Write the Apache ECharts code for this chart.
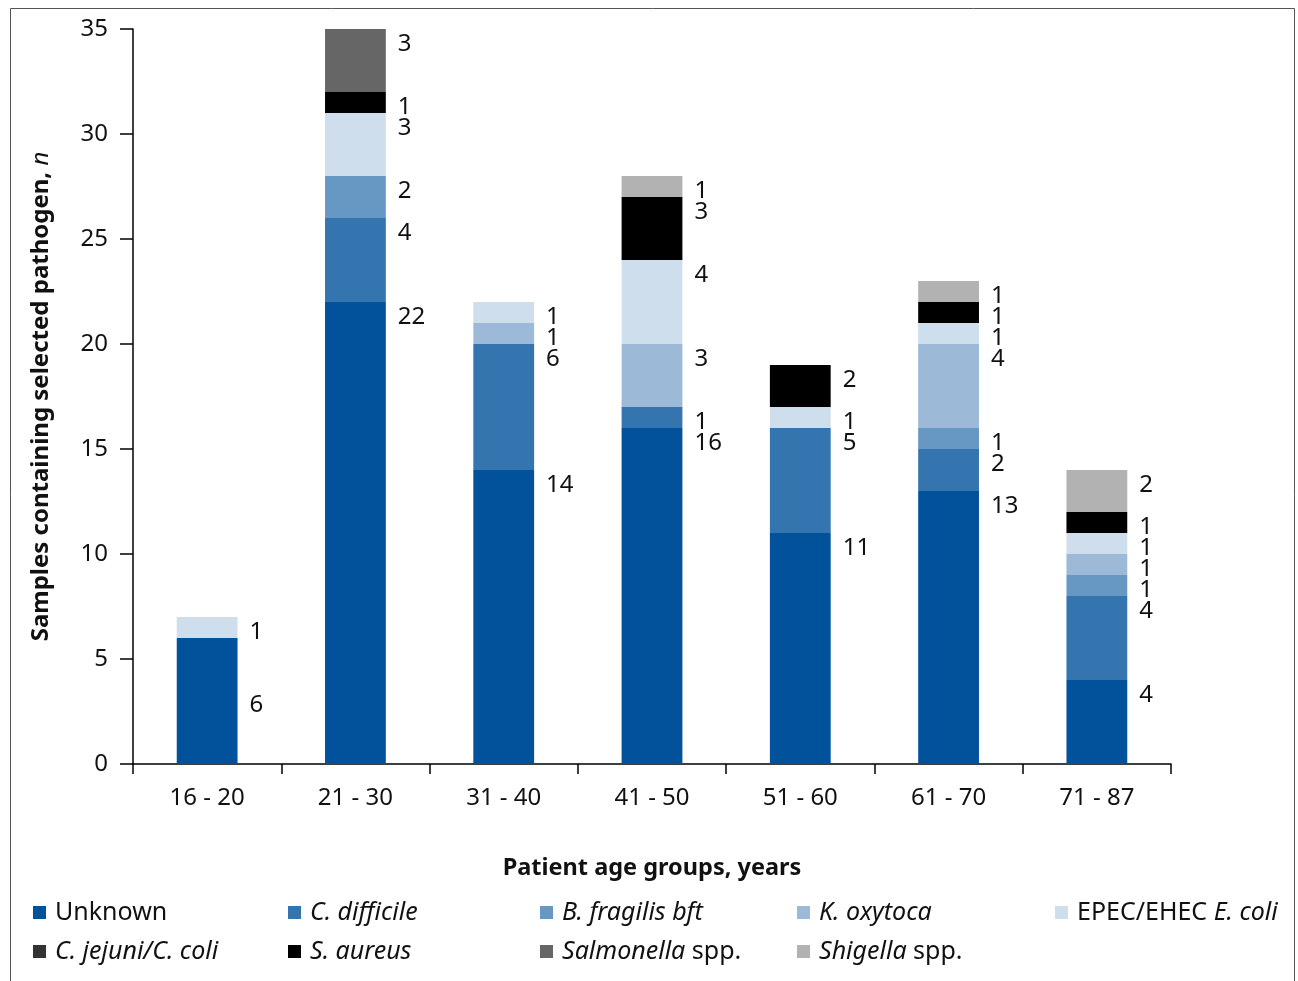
<!DOCTYPE html>
<html>
<head>
<meta charset="utf-8">
<script src="https://cdn.jsdelivr.net/npm/echarts@6/dist/echarts.min.js"></script>
<style>
html,body{margin:0;padding:0;background:#fff;}
#chart{width:1298px;height:981px;}
</style>
</head>
<body>
<div id="chart"></div>
<script>
const categories = ['16 - 20','21 - 30','31 - 40','41 - 50','51 - 60','61 - 70','71 - 87'];
const seriesNames = ['Unknown','C. difficile','B. fragilis bft','K. oxytoca','EPEC/EHEC E. coli','C. jejuni/C. coli','S. aureus','Salmonella spp.','Shigella spp.'];
const unknown     = [6, 22, 14, 16, 11, 13, 4];
const cDifficile  = [null, 4, 6, 1, 5, 2, 4];
const bFragilis   = [null, 2, null, null, null, 1, 1];
const kOxytoca    = [null, null, 1, 3, null, 4, 1];
const epecEhec    = [1, 3, 1, 4, 1, 1, 1];
const cJejuni     = [null, null, null, null, null, null, null];
const sAureus     = [null, 1, null, 3, 2, 1, 1];
const salmonella  = [null, 3, null, null, null, null, null];
const shigella    = [null, null, null, 1, null, 1, 2];
const yTicks = [0, 5, 10, 15, 20, 25, 30, 35];

const values = [unknown, cDifficile, bFragilis, kOxytoca, epecEhec, cJejuni, sAureus, salmonella, shigella];
const colors = ['#01529b','#3474af','#6798c4','#9cbad8','#cfdeec','#333333','#000000','#666666','#b2b2b2'];
const FONT = '"Noto Sans", sans-serif';

const legendFmt = {
  'Unknown': 'Unknown',
  'C. difficile': '{i|C. difficile}',
  'B. fragilis bft': '{i|B. fragilis bft}',
  'K. oxytoca': '{i|K. oxytoca}',
  'EPEC/EHEC E. coli': 'EPEC/EHEC {i|E. coli}',
  'C. jejuni/C. coli': '{i|C. jejuni/C. coli}',
  'S. aureus': '{i|S. aureus}',
  'Salmonella spp.': '{i|Salmonella} spp.',
  'Shigella spp.': '{i|Shigella} spp.'
};

const chart = echarts.init(document.getElementById('chart'), null, {renderer:'canvas'});

const series = seriesNames.map((name, si) => ({
  name: name,
  type: 'bar',
  stack: 'total',
  barWidth: '41%',
  itemStyle: { color: colors[si] },
  label: {
    show: true,
    position: ['100%', 0],
    offset: [12, 3],
    align: 'left',
    verticalAlign: 'top',
    color: '#111',
    fontSize: 24,
    fontFamily: FONT
  },
  data: values[si].map((v, ci) => {
    if (si === 0 && ci === 0) {
      return { value: v, label: { position: 'right', offset: [0, 4], distance: 12, verticalAlign: 'middle' } };
    }
    return v;
  })
}));

const legendCols = [33, 288, 540, 797, 1055];
const legendRows = [900, 939];
const legends = seriesNames.map((name, i) => ({
  data: [name],
  left: legendCols[i % 5],
  top: legendRows[Math.floor(i / 5)],
  icon: 'rect',
  itemWidth: 13,
  itemHeight: 13,
  itemGap: 0,
  padding: 0,
  selectedMode: false,
  formatter: n => legendFmt[n],
  textStyle: {
    fontSize: 25,
    fontFamily: FONT,
    color: '#111',
    padding: [0, 0, 0, 4],
    rich: { i: { fontStyle: 'italic', fontSize: 25, fontFamily: FONT, color: '#111' } }
  }
}));

chart.setOption({
  animation: false,
  backgroundColor: '#fff',
  graphic: [{
    type: 'rect',
    shape: { x: 10.5, y: 8.5, width: 1284, height: 1000 },
    style: { fill: 'none', stroke: '#555', lineWidth: 1 },
    silent: true
  }],
  grid: { left: 133, right: 127, top: 29, bottom: 217, containLabel: false },
  legend: legends,
  xAxis: {
    type: 'category',
    data: categories,
    boundaryGap: true,
    name: 'Patient age groups, years',
    nameLocation: 'middle',
    nameGap: 92,
    nameTextStyle: { fontSize: 23.5, fontWeight: 'bold', fontFamily: FONT, color: '#111' },
    axisLine: { lineStyle: { color: '#000', width: 1.5 } },
    axisTick: { show: true, length: 10, lineStyle: { color: '#000', width: 1.5 } },
    axisLabel: { fontSize: 24, fontFamily: FONT, color: '#111', margin: 22 }
  },
  yAxis: {
    type: 'value',
    min: 0,
    max: 35,
    interval: 5,
    name: 'Samples containing selected pathogen, {i|n}',
    nameLocation: 'middle',
    nameRotate: 90,
    nameGap: 80,
    nameTextStyle: {
      fontSize: 24, fontWeight: 'bold', fontFamily: FONT, color: '#111',
      rich: { i: { fontStyle: 'italic', fontWeight: 'normal', fontSize: 24, fontFamily: FONT, color: '#111' } }
    },
    splitLine: { show: false },
    axisLine: { show: true, lineStyle: { color: '#000', width: 1.5 } },
    axisTick: { show: true, length: 13, lineStyle: { color: '#000', width: 1.5 } },
    axisLabel: { fontSize: 24, fontFamily: FONT, color: '#111', margin: 25,
      formatter: v => yTicks.includes(v) ? String(v) : '' }
  },
  series: series
});
</script>
</body>
</html>
